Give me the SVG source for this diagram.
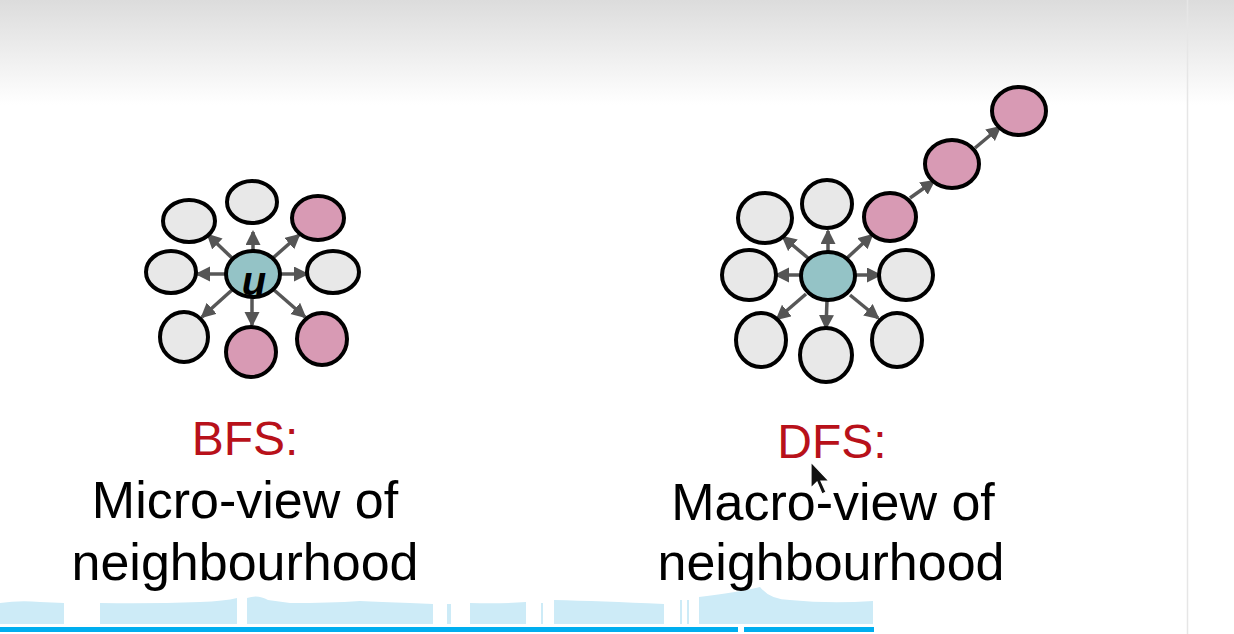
<svg xmlns="http://www.w3.org/2000/svg" width="1234" height="634" viewBox="0 0 1234 634">
<defs>
<linearGradient id="topg" x1="0" y1="0" x2="0" y2="1">
<stop offset="0" stop-color="#dcdcdc"/>
<stop offset="1" stop-color="#ffffff"/>
</linearGradient>
<marker id="ah" markerUnits="userSpaceOnUse" markerWidth="16" markerHeight="16" refX="13" refY="7.5" orient="auto">
<path d="M0,0 L15,7.5 L0,15 z" fill="#555"/>
</marker>
</defs>
<style>
.n{stroke:#000;stroke-width:4}
.g{fill:#e8e8e8}
.p{fill:#d89ab4}
.t{fill:#94c3c6}
.e{stroke:#575757;stroke-width:3.5;fill:none;marker-end:url(#ah)}
.lbl{font-family:"Liberation Sans",Arial,sans-serif;font-size:52px;text-anchor:middle;fill:#000}
.red{fill:#b8111a;font-size:48px}
.wave{fill:#cdebf7}
</style>
<rect x="0" y="0" width="1234" height="634" fill="#fff"/>
<rect x="0" y="0" width="1234" height="105" fill="url(#topg)"/>
<line x1="1187.5" y1="0" x2="1187.5" y2="634" stroke="#e6e6e6" stroke-width="1.5"/>

<g id="connectors">
<line class="e" x1="232" y1="258" x2="208" y2="235"/>
<line class="e" x1="253" y1="251" x2="253" y2="232"/>
<line class="e" x1="273" y1="258" x2="299" y2="235"/>
<line class="e" x1="226" y1="274" x2="197" y2="274"/>
<line class="e" x1="280" y1="274" x2="307" y2="274"/>
<line class="e" x1="232" y1="290" x2="202" y2="317"/>
<line class="e" x1="252" y1="298" x2="252" y2="325"/>
<line class="e" x1="274" y1="290" x2="305" y2="317"/>

<line class="e" x1="808" y1="258" x2="783" y2="237"/>
<line class="e" x1="828" y1="252" x2="828" y2="231"/>
<line class="e" x1="846" y1="259" x2="872" y2="235"/>
<line class="e" x1="802" y1="275" x2="776" y2="275"/>
<line class="e" x1="855" y1="275" x2="880" y2="275"/>
<line class="e" x1="806" y1="294" x2="777" y2="319"/>
<line class="e" x1="827" y1="300" x2="826" y2="328"/>
<line class="e" x1="850" y1="295" x2="878" y2="318"/>
<line class="e" x1="910" y1="198" x2="934" y2="181"/>
<line class="e" x1="975" y1="148" x2="1000" y2="127"/>
</g>

<g id="bfs-tl"><ellipse class="n g" cx="189" cy="221" rx="26" ry="21"/></g>
<g id="bfs-t"><ellipse class="n g" cx="252" cy="202" rx="25" ry="21"/></g>
<g id="bfs-tr"><ellipse class="n p" cx="318" cy="218" rx="26" ry="22"/></g>
<g id="bfs-l"><ellipse class="n g" cx="171" cy="272" rx="25" ry="21"/></g>
<g id="bfs-r"><ellipse class="n g" cx="333" cy="272" rx="26" ry="21"/></g>
<g id="bfs-bl"><ellipse class="n g" cx="184" cy="337" rx="24" ry="25"/></g>
<g id="bfs-b"><ellipse class="n p" cx="251" cy="352" rx="25" ry="25"/></g>
<g id="bfs-br"><ellipse class="n p" cx="322" cy="339" rx="25" ry="26"/></g>
<g id="bfs-u"><ellipse class="n t" cx="253" cy="274" rx="27" ry="23"/>
<text x="254" y="295" font-family="'Liberation Sans',Arial,sans-serif" font-style="italic" font-weight="bold" font-size="40" text-anchor="middle" fill="#000">u</text></g>

<g id="dfs-tl"><ellipse class="n g" cx="765" cy="218" rx="27" ry="25"/></g>
<g id="dfs-t"><ellipse class="n g" cx="827" cy="204" rx="25" ry="24"/></g>
<g id="dfs-p1"><ellipse class="n p" cx="890" cy="217" rx="26" ry="24"/></g>
<g id="dfs-p2"><ellipse class="n p" cx="952" cy="164" rx="27" ry="24"/></g>
<g id="dfs-p3"><ellipse class="n p" cx="1019" cy="111" rx="27" ry="24"/></g>
<g id="dfs-l"><ellipse class="n g" cx="749" cy="275" rx="27" ry="25"/></g>
<g id="dfs-c"><ellipse class="n t" cx="828" cy="276" rx="27" ry="24"/></g>
<g id="dfs-r"><ellipse class="n g" cx="906" cy="275" rx="27" ry="25"/></g>
<g id="dfs-bl"><ellipse class="n g" cx="761" cy="340" rx="25" ry="27"/></g>
<g id="dfs-b"><ellipse class="n g" cx="826" cy="355" rx="26" ry="27"/></g>
<g id="dfs-br"><ellipse class="n g" cx="897" cy="340" rx="25" ry="27"/></g>

<g id="bottom-strip">
<path class="wave" d="M0,603 Q20,600 40,602 L64,603 L64,624 L0,624 z"/>
<path class="wave" d="M100,603 Q150,604 200,602 Q225,601 237,598 L237,624 L100,624 z"/>
<path class="wave" d="M247,598 Q258,594 268,600 L290,603 Q330,603 360,601 Q380,602 410,603 L433,604 L433,624 L247,624 z"/>
<rect class="wave" x="447" y="604" width="4" height="20"/>
<path class="wave" d="M470,603 Q500,604 526,602 L526,624 L470,624 z"/>
<rect class="wave" x="541" y="603" width="2" height="21"/>
<path class="wave" d="M554,600 Q600,601 664,604 L664,624 L554,624 z"/>
<rect class="wave" x="680" y="600" width="2" height="24"/>
<rect class="wave" x="687" y="600" width="2" height="24"/>
<path class="wave" d="M699,597 Q740,592 760,587 Q770,600 790,600 Q830,604 873,601 L873,624 L699,624 z"/>
<rect x="0" y="627" width="738" height="5" fill="#00aeef"/>
<rect x="744" y="627" width="130" height="5" fill="#00aeef"/>
</g>

<g id="labels">
<text class="lbl red" x="245" y="455">BFS:</text>
<text class="lbl" x="245" y="518">Micro-view of</text>
<text class="lbl" x="245" y="580">neighbourhood</text>
<text class="lbl red" x="832" y="458">DFS:</text>
<text class="lbl" x="833" y="520">Macro-view of</text>
<text class="lbl" x="831" y="580">neighbourhood</text>
</g>
<path d="M811,462 L811,488 L817,482 L822,494 L826,492 L821,481 L829,481 z" fill="#111" stroke="#fff" stroke-width="1.2"/>
</svg>
